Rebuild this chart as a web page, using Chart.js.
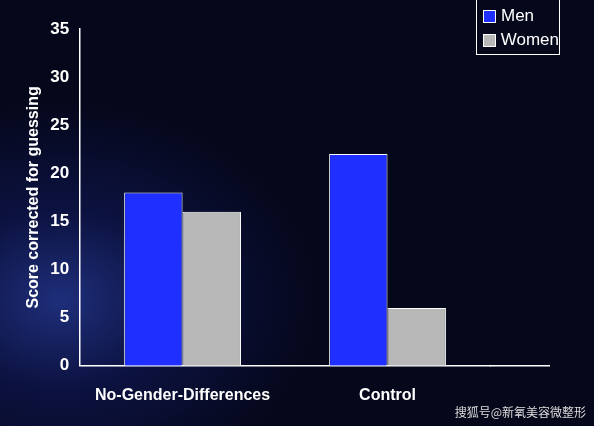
<!DOCTYPE html>
<html><head><meta charset="utf-8">
<script src="https://cdn.jsdelivr.net/npm/chart.js"></script>
<style>
html,body{margin:0;padding:0;}
body{width:594px;height:426px;overflow:hidden;position:relative;
background:radial-gradient(ellipse 260px 200px at 60px 300px,#1e2e7a 0%,#0c1240 45%,#05071a 100%);}
#wrap{position:absolute;left:0;top:0;width:594px;height:426px;}
#legend{position:absolute;left:476px;top:0px;width:84px;height:55px;border:1px solid #fff;border-top:none;
font-family:"Liberation Sans",Arial,sans-serif;font-size:17px;color:#fff;box-sizing:border-box;padding:4px 0 0 6px;}
#legend div{height:24px;display:flex;align-items:center;}
#legend span{display:inline-block;width:11px;height:11px;border:1px solid #fff;margin-right:5px;}
#wm{position:absolute;right:8px;bottom:6px;font-family:"Noto Sans CJK SC";font-size:12px;color:#ddd;}
</style></head><body>
<div id="wrap"><canvas id="c" width="594" height="426"></canvas></div>
<div id="legend"><div><span style="background:#1f2fff"></span>Men</div><div><span style="background:#b8b8b8"></span>Women</div></div>
<div id="wm">搜狐号@新氧美容微整形</div>
<script>
const categories=["No-Gender-Differences","Control"];
const men=[18,22];
const women=[16,6];
const extAxis={id:'extAxis',afterDraw(ch){const a=ch.chartArea,c=ch.ctx;c.save();c.strokeStyle='#fff';c.lineWidth=1.5;
c.beginPath();c.moveTo(a.right,a.bottom);c.lineTo(550,a.bottom);c.stroke();c.restore();}};
new Chart(document.getElementById('c'),{type:'bar',
data:{labels:categories,datasets:[
{label:'Men',data:men,backgroundColor:'#1f2fff',borderColor:'#ffffff',borderWidth:1,categoryPercentage:0.57,barPercentage:1},
{label:'Women',data:women,backgroundColor:'#b8b8b8',borderColor:'#ffffff',borderWidth:1,categoryPercentage:0.57,barPercentage:1}]},
options:{responsive:false,animation:false,
layout:{padding:{left:20,right:104,top:29,bottom:9}},
plugins:{legend:{display:false},tooltip:{enabled:false}},
scales:{
x:{grid:{display:false},border:{color:'#fff',width:1.5},ticks:{padding:12,color:'#fff',font:{family:'Liberation Sans',size:16,weight:'bold'}}},
y:{min:0,max:35,ticks:{stepSize:5,color:'#fff',font:{family:'Liberation Sans',size:17,weight:'bold'}},
grid:{display:false,drawTicks:true},border:{color:'#fff',width:1.5},
title:{display:true,text:'Score corrected for guessing',color:'#fff',font:{family:'Liberation Sans',size:16,weight:'bold'}}}}},
plugins:[extAxis]});
</script></body></html>
